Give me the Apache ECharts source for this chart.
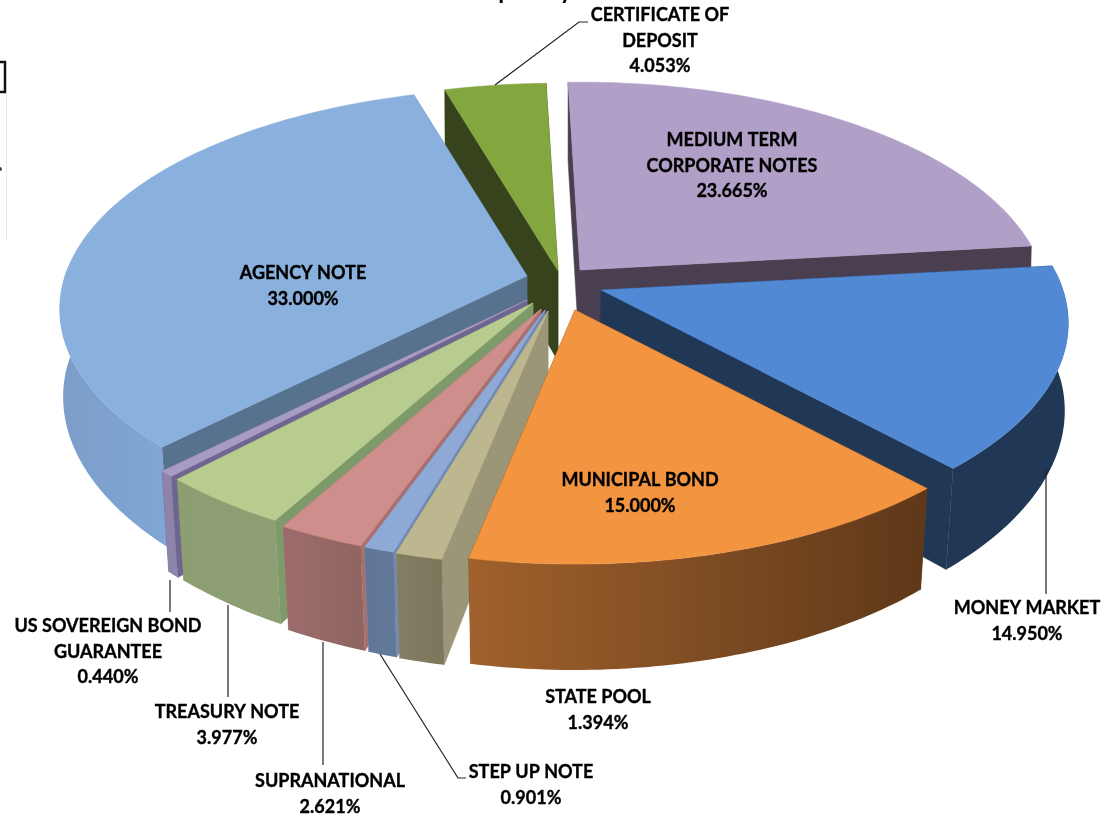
<!DOCTYPE html>
<html>
<head>
<meta charset="utf-8" />
<script src="https://cdn.jsdelivr.net/npm/echarts@6/dist/echarts.min.js"></script>
<style>
  html, body { margin: 0; padding: 0; background: #fff; }
  #chart { width: 1120px; height: 815px; }
</style>
</head>
<body>
<div id="chart"></div>
<script>
// slices go clockwise from the top of the pie
const categories = [
  "MEDIUM TERM\nCORPORATE NOTES",
  "MONEY MARKET",
  "MUNICIPAL BOND",
  "STATE POOL",
  "STEP UP NOTE",
  "SUPRANATIONAL",
  "TREASURY NOTE",
  "US SOVEREIGN BOND\nGUARANTEE",
  "AGENCY NOTE",
  "CERTIFICATE OF\nDEPOSIT",
];
const values = [23.665, 14.95, 15.0, 1.394, 0.901, 2.621, 3.977, 0.44, 33.0, 4.053];

// how far each slice is pulled out of the pie, in px
const pullOut = [[23, -12], [44, 8], [18, 28], [-9, 29], [-12, 28], [-16, 27], [-24, 21], [-30, 18], [-30, -6], [1, -11]];
// painter's order, back to front
const drawOrder = [0, 9, 8, 1, 7, 6, 5, 4, 3, 2];

const topColors = ["#b09fc6", "#5289d4", "#f39441", "#bdb78f", "#8ea9d6", "#ce8e8b", "#b8cc90", "#a99cc4", "#8ab0de", "#84a63f"];
const sideColors = ["#4a3f50", "#203755", "#6b401c", "#9a9677", "#7189b3", "#a96f6d", "#7e9a6a", "#6e6590", "#57728f", "#36431c"];
const wallFrom = ["#4a3f50", "#203755", "#a0612c", "#837e63", "#5f7796", "#9c6c6c", "#8c9e72", "#8e83a8", "#7c9dc8", "#36431c"];
const wallTo = ["#4a3f50", "#203755", "#5e3819", "#7c775c", "#63799a", "#8f6561", "#8e9f74", "#8e83a8", "#80a6d6", "#36431c"];

// first line centre of every label
const labelPos = [[732, 140], [1027, 608], [640, 480], [598, 697], [531, 772], [330, 781], [227, 712], [108, 626], [303, 273], [660, 15]];
const leaders = [
  [[495, 85], [579, 22], [588, 22]],
  [[1046, 470], [1046, 594]],
  [[170, 580], [170, 612]],
  [[228, 605], [228, 697]],
  [[323, 642], [323, 765]],
  [[380, 654], [458, 778], [466, 778]],
];

const pie = { cx: 557, cy: 282, rx: 462, ry: 216, persp: 0.15, depth: 90, shrink: 0.022, startDeg: -1.7 };
const labelFont = 'bold 18px Lato, "Open Sans", sans-serif';
const labelLine = 25.7;

const total = values.reduce((a, b) => a + b, 0);
const rad = (d) => (d * Math.PI) / 180;

function sliceAngles(i) {
  let before = 0;
  for (let j = 0; j < i; j++) before += values[j];
  const from = pie.startDeg + (before / total) * 360;
  return [from, from + (values[i] / total) * 360];
}

// disc point -> screen offset, the front of the disc comes out bigger
function project(deg) {
  const u = Math.sin(rad(deg));
  const v = -Math.cos(rad(deg));
  const s = 1 / (1 - pie.persp * v);
  return [u * s * pie.rx, v * s * pie.ry, s, v];
}

// same point on the underside of the pie
function lower(pt, s, v) {
  const pull = pie.shrink * (0.2 + 0.8 * Math.max(v, 0));
  return [pt[0] - (pt[0] - pie.cx) * pull, pt[1] + pie.depth * s];
}

function renderSlice(params, api) {
  const i = api.value(0);
  const angles = sliceAngles(i);
  const ax = pie.cx + pullOut[i][0];
  const ay = pie.cy + pullOut[i][1];
  const arc = [];
  const front = [];
  const steps = Math.max(2, Math.ceil(angles[1] - angles[0]));
  for (let n = 0; n <= steps; n++) {
    const p = project(angles[0] + ((angles[1] - angles[0]) * n) / steps);
    const pt = [ax + p[0], ay + p[1]];
    arc.push(pt);
    if (p[3] > -0.08) front.push([pt, lower(pt, p[2], p[3])]);
  }
  const apexLow = lower([ax, ay], 1, 0);
  const first = project(angles[0]);
  const last = project(angles[1]);
  const side = (pt, p) => ({
    type: "polygon",
    shape: { points: [[ax, ay], pt, lower(pt, p[2], p[3]), apexLow] },
    style: { fill: sideColors[i], stroke: sideColors[i], lineWidth: 0.5 },
  });
  const children = [side(arc[0], first), side(arc[arc.length - 1], last)];
  if (front.length > 1) {
    children.push({
      type: "polygon",
      shape: { points: front.map((f) => f[0]).concat(front.map((f) => f[1]).reverse()) },
      style: {
        fill: new echarts.graphic.LinearGradient(0, 0, 1, 0, [
          { offset: 0, color: wallFrom[i] },
          { offset: 1, color: wallTo[i] },
        ]),
      },
    });
  }
  children.push({
    type: "polygon",
    shape: { points: [[ax, ay]].concat(arc) },
    style: { fill: topColors[i], stroke: topColors[i], lineWidth: 0.5 },
  });
  return { type: "group", children: children };
}

const labels = categories.map((name, i) => ({
  type: "text",
  x: labelPos[i][0],
  y: labelPos[i][1] - labelLine / 2,
  z: 20,
  style: {
    text: name + "\n" + values[i].toFixed(3) + "%",
    font: labelFont,
    fill: "#000",
    stroke: "#000",
    lineWidth: 0.35,
    align: "center",
    verticalAlign: "top",
    lineHeight: labelLine,
  },
}));

const leaderLines = leaders.map((points) => ({
  type: "polyline",
  z: 19,
  shape: { points: points },
  style: { stroke: "#222", lineWidth: 1.2, fill: null },
}));

// scraps of the cropped page: left edge, and the two title letters that reach below the top edge
const scraps = [
  { type: "rect", z: 5, shape: { x: -4, y: 62, width: 9, height: 30 }, style: { fill: null, stroke: "#111", lineWidth: 2.5 } },
  { type: "line", z: 4, shape: { x1: 6.5, y1: 94, x2: 6.5, y2: 240 }, style: { stroke: "#e8e8e8", lineWidth: 1 } },
  { type: "circle", z: 5, shape: { cx: 0, cy: 169, r: 2 }, style: { fill: "#444" } },
  { type: "text", z: 5, x: 505, y: 3, style: { text: "p", font: 'bold 24px Lato, sans-serif', fill: "#000", align: "center", verticalAlign: "bottom" } },
  { type: "text", z: 5, x: 566, y: 3, style: { text: "y", font: 'bold 24px Lato, sans-serif', fill: "#000", align: "center", verticalAlign: "bottom" } },
];

const chart = echarts.init(document.getElementById("chart"));
chart.setOption({
  animation: false,
  backgroundColor: "#fff",
  graphic: { elements: scraps.concat(leaderLines, labels) },
  series: [
    {
      type: "custom",
      coordinateSystem: "none",
      silent: true,
      renderItem: renderSlice,
      data: drawOrder.map((i) => [i]),
    },
  ],
});
</script>
</body>
</html>
